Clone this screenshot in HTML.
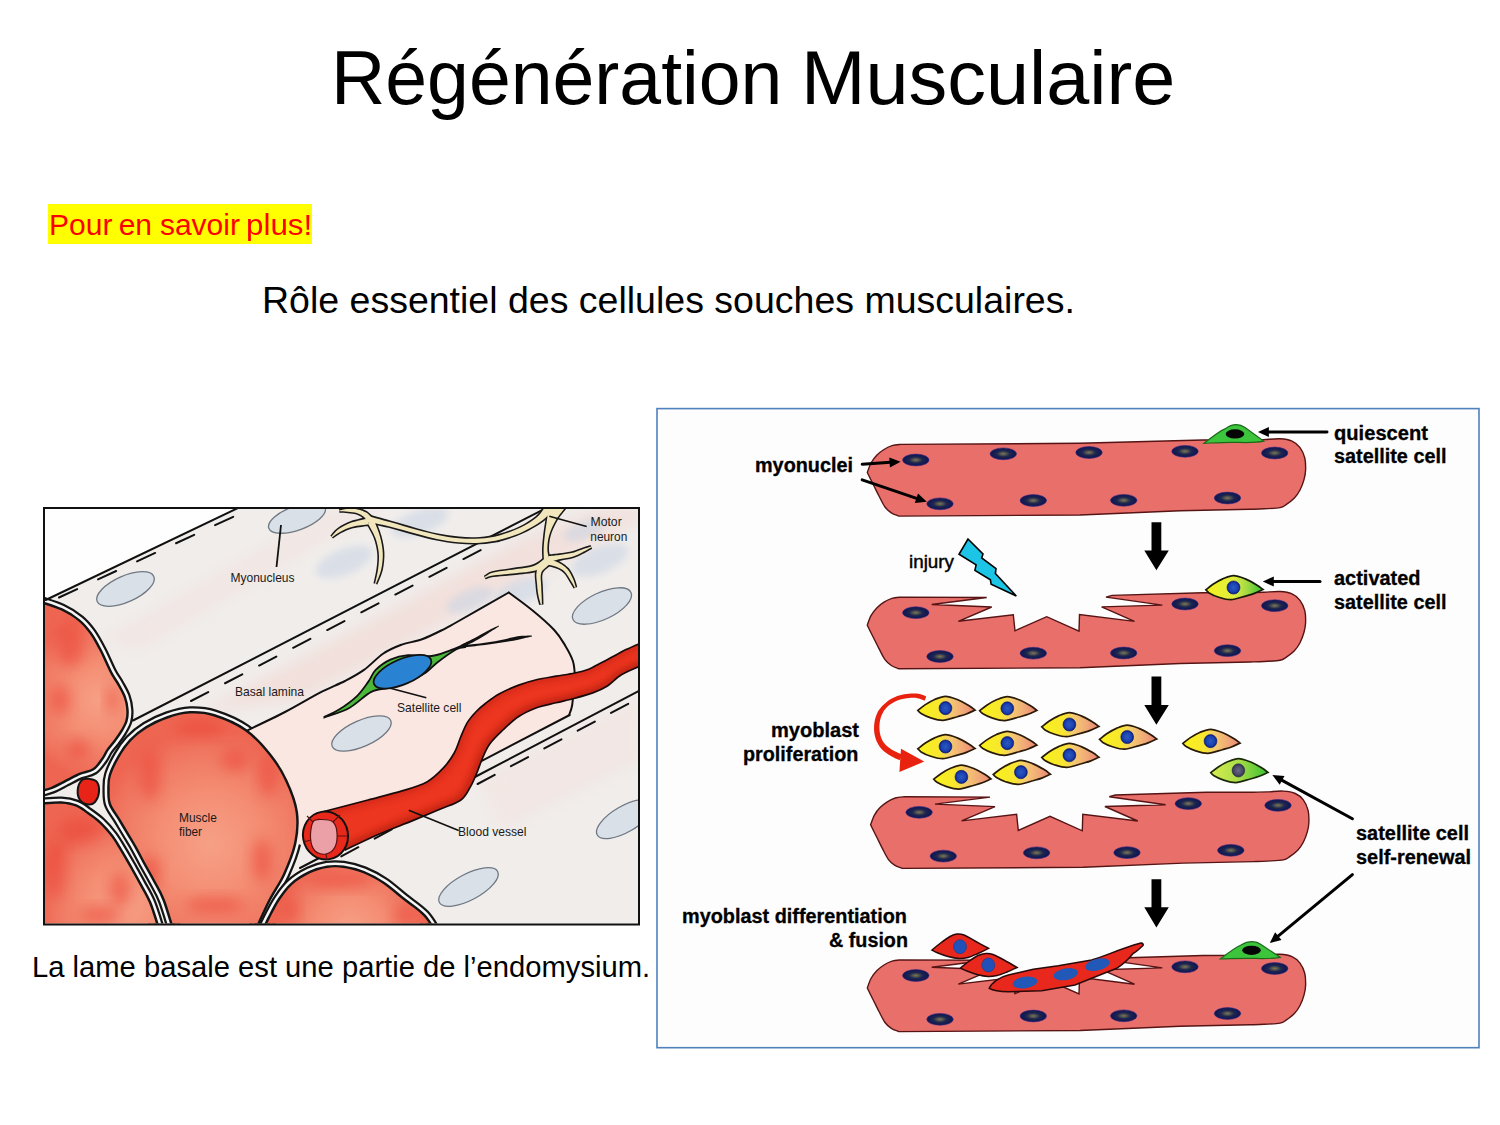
<!DOCTYPE html>
<html><head><meta charset="utf-8">
<style>
html,body{margin:0;padding:0;background:#fff;}
body{width:1500px;height:1125px;position:relative;overflow:hidden;font-family:"Liberation Sans",sans-serif;}
.t{position:absolute;white-space:nowrap;line-height:1;}
.tw{top:40px;font-size:76px;color:#000;transform-origin:0 0;}
#hl{position:absolute;left:48px;top:204px;width:264px;height:40px;background:#ffff00;}
.pw{top:209.5px;font-size:30px;color:#ff0000;}
#sub{left:262px;top:282px;font-size:37.5px;color:#000;}
#cap{left:32px;top:953px;font-size:29.2px;color:#000;}
svg{position:absolute;left:0;top:0;}
</style></head><body>
<div class="t tw" style="left:330.8px;transform:scaleX(0.989)">Régénération</div><div class="t tw" style="left:800.6px;transform:scaleX(1.0185)">Musculaire</div>
<div id="hl"></div>
<div class="t pw" style="left:49.1px">Pour</div><div class="t pw" style="left:118.7px">en</div><div class="t pw" style="left:159.9px">savoir</div><div class="t pw" style="left:246.3px;transform:scaleX(1.045);transform-origin:0 0">plus!</div>
<div class="t" id="sub">Rôle essentiel des cellules souches musculaires.</div>
<div class="t" id="cap">La lame basale est une partie de l’endomysium.</div>
<svg width="1500" height="1125" viewBox="0 0 1500 1125">
<g id="left">
<defs>
<clipPath id="lc"><rect x="45" y="509" width="593.5" height="414.5"/></clipPath>
<filter id="bl4" x="-50%" y="-50%" width="200%" height="200%"><feGaussianBlur stdDeviation="7"/></filter>
<filter id="bl2" x="-50%" y="-50%" width="200%" height="200%"><feGaussianBlur stdDeviation="3"/></filter>
<linearGradient id="vg" x1="0" y1="0" x2="0" y2="1"><stop offset="0" stop-color="#d82814"/><stop offset="0.35" stop-color="#ee3a22"/><stop offset="0.7" stop-color="#e8301c"/><stop offset="1" stop-color="#c41e10"/></linearGradient>
<radialGradient id="rg" cx="45%" cy="45%" r="65%"><stop offset="0" stop-color="#f58a70"/><stop offset="0.6" stop-color="#f27a62"/><stop offset="1" stop-color="#ee6a58"/></radialGradient>
<radialGradient id="gA" gradientUnits="userSpaceOnUse" cx="100" cy="700" r="80"><stop offset="0" stop-color="#f6a086"/><stop offset="0.45" stop-color="#f48e74"/><stop offset="0.8" stop-color="#f07862"/><stop offset="1" stop-color="#ee6652"/></radialGradient>
<radialGradient id="gB" gradientUnits="userSpaceOnUse" cx="210" cy="845" r="115"><stop offset="0" stop-color="#f6a086"/><stop offset="0.45" stop-color="#f48e74"/><stop offset="0.8" stop-color="#f07862"/><stop offset="1" stop-color="#ee6652"/></radialGradient>
<radialGradient id="gC" gradientUnits="userSpaceOnUse" cx="350" cy="930" r="75"><stop offset="0" stop-color="#f6a086"/><stop offset="0.45" stop-color="#f48e74"/><stop offset="0.8" stop-color="#f07862"/><stop offset="1" stop-color="#ee6652"/></radialGradient>
<radialGradient id="gD" gradientUnits="userSpaceOnUse" cx="125" cy="905" r="85"><stop offset="0" stop-color="#f6a086"/><stop offset="0.45" stop-color="#f48e74"/><stop offset="0.8" stop-color="#f07862"/><stop offset="1" stop-color="#ee6652"/></radialGradient>
</defs>
<g clip-path="url(#lc)">
<rect x="44" y="508" width="596" height="417" fill="#f0edeb"/>
<path d="M44,508 L238,508 L45.7,600 L44,600 Z" fill="#fefefe"/>
<path d="M246.5,730.7 L285.0,712.0 L320.0,692.6 L345.0,681.0 L364.0,669.9 L383.0,653.7 L400.7,645.0 L422.7,639.0 L444.7,628.8 L457.9,621.5 L508.8,592.5 L532.0,610.0 L554.2,630.0 L565.4,645.9 L572.8,660.8 L574.7,675.0 L573.5,692.0 L572.0,706.0 L569.1,715.0 L481.3,761.2 L420.0,792.0 L350.0,828.0 L300.0,845.0 L296.0,840.0 L295.6,812.5 L285.4,781.8 L269.0,755.2 L246.5,730.7 Z" fill="#fbe7e2"/>
<path d="M200,712 L520,540 L600,509 L640,509 L640,520 L300,700 Z" fill="#f3d8d2" opacity="0.6" filter="url(#bl4)"/>
<path d="M480,780 L640,700 L640,760 L500,830 Z" fill="#f6dcd6" opacity="0.35" filter="url(#bl4)"/>
<path d="M100,640 L330,509 L380,509 L140,650 Z" fill="#f4dcd6" opacity="0.35" filter="url(#bl4)"/>
<ellipse cx="344" cy="562" rx="30" ry="13" transform="rotate(-22 344 562)" fill="#c9d4e4" opacity="0.55" filter="url(#bl2)"/>
<ellipse cx="420" cy="522" rx="30" ry="12" transform="rotate(-20 420 522)" fill="#c9d4e4" opacity="0.55" filter="url(#bl2)"/>
<ellipse cx="520" cy="592" rx="28" ry="12" transform="rotate(-20 520 592)" fill="#c9d4e4" opacity="0.55" filter="url(#bl2)"/>
<ellipse cx="600" cy="560" rx="30" ry="13" transform="rotate(-22 600 560)" fill="#c9d4e4" opacity="0.55" filter="url(#bl2)"/>
<ellipse cx="470" cy="600" rx="25" ry="10" transform="rotate(-22 470 600)" fill="#c9d4e4" opacity="0.55" filter="url(#bl2)"/>
<ellipse cx="585" cy="530" rx="22" ry="9" transform="rotate(-20 585 530)" fill="#c9d4e4" opacity="0.55" filter="url(#bl2)"/>
<path d="M40.0,603.0 C43.5,604.3 54.9,607.6 61.3,610.6 C67.7,613.6 73.7,617.4 78.4,621.3 C83.2,625.2 86.2,629.0 89.8,634.0 C93.3,639.0 96.3,644.6 99.7,651.1 C103.1,657.6 107.3,667.7 110.2,673.3 C113.1,678.9 115.1,680.9 117.3,684.9 C119.5,688.9 122.1,693.1 123.6,697.3 C125.1,701.4 125.9,705.9 126.2,709.8 C126.5,713.6 126.3,716.8 125.3,720.4 C124.3,724.0 121.9,727.8 120.0,731.1 C118.1,734.4 116.0,737.0 113.8,740.0 C111.6,743.0 108.8,745.9 106.7,748.9 C104.6,751.9 103.6,755.1 101.2,758.3 C98.8,761.5 96.2,765.8 92.6,768.2 C89.0,770.6 84.3,770.6 79.8,772.5 C75.3,774.4 70.3,777.2 65.6,779.6 C60.9,782.0 55.7,785.0 51.4,786.7 C47.1,788.4 41.9,789.5 40.0,790.0 L20.0,790.0 L20.0,603.0 Z" fill="none" stroke="#151515" stroke-width="14.5" stroke-linejoin="round"/>
<path d="M40.0,603.0 C43.5,604.3 54.9,607.6 61.3,610.6 C67.7,613.6 73.7,617.4 78.4,621.3 C83.2,625.2 86.2,629.0 89.8,634.0 C93.3,639.0 96.3,644.6 99.7,651.1 C103.1,657.6 107.3,667.7 110.2,673.3 C113.1,678.9 115.1,680.9 117.3,684.9 C119.5,688.9 122.1,693.1 123.6,697.3 C125.1,701.4 125.9,705.9 126.2,709.8 C126.5,713.6 126.3,716.8 125.3,720.4 C124.3,724.0 121.9,727.8 120.0,731.1 C118.1,734.4 116.0,737.0 113.8,740.0 C111.6,743.0 108.8,745.9 106.7,748.9 C104.6,751.9 103.6,755.1 101.2,758.3 C98.8,761.5 96.2,765.8 92.6,768.2 C89.0,770.6 84.3,770.6 79.8,772.5 C75.3,774.4 70.3,777.2 65.6,779.6 C60.9,782.0 55.7,785.0 51.4,786.7 C47.1,788.4 41.9,789.5 40.0,790.0 L20.0,790.0 L20.0,603.0 Z" fill="none" stroke="#f6f6f6" stroke-width="10" stroke-linejoin="round"/>
<path d="M40.0,805.0 C43.5,804.8 55.4,803.5 61.3,803.8 C67.2,804.1 71.3,804.9 75.6,806.6 C79.9,808.3 82.9,810.9 86.9,813.8 C90.9,816.6 95.7,819.9 99.7,823.7 C103.7,827.5 107.8,832.1 111.1,836.5 C114.4,840.9 116.7,845.1 119.7,850.0 C122.7,854.9 125.8,860.3 129.0,866.0 C132.2,871.7 135.7,877.8 139.0,884.0 C142.3,890.2 145.8,895.3 149.0,903.0 C152.2,910.7 156.5,925.5 158.0,930.0 L158.0,960.0 L20.0,960.0 L20.0,805.0 Z" fill="none" stroke="#151515" stroke-width="14.5" stroke-linejoin="round"/>
<path d="M40.0,805.0 C43.5,804.8 55.4,803.5 61.3,803.8 C67.2,804.1 71.3,804.9 75.6,806.6 C79.9,808.3 82.9,810.9 86.9,813.8 C90.9,816.6 95.7,819.9 99.7,823.7 C103.7,827.5 107.8,832.1 111.1,836.5 C114.4,840.9 116.7,845.1 119.7,850.0 C122.7,854.9 125.8,860.3 129.0,866.0 C132.2,871.7 135.7,877.8 139.0,884.0 C142.3,890.2 145.8,895.3 149.0,903.0 C152.2,910.7 156.5,925.5 158.0,930.0 L158.0,960.0 L20.0,960.0 L20.0,805.0 Z" fill="none" stroke="#f6f6f6" stroke-width="10" stroke-linejoin="round"/>
<path d="M176.0,935.0 C174.2,929.2 168.5,909.2 165.0,900.0 C161.5,890.8 158.3,886.3 155.0,880.0 C151.7,873.7 148.1,867.6 145.0,862.0 C141.9,856.4 139.5,851.5 136.7,846.5 C133.9,841.5 131.0,837.0 128.2,832.2 C125.4,827.5 122.5,822.7 119.7,818.0 C116.9,813.3 112.8,808.5 111.1,803.8 C109.4,799.1 109.7,794.4 109.7,789.6 C109.7,784.9 109.4,780.8 111.1,775.3 C112.8,769.8 116.4,762.6 119.7,756.9 C123.0,751.2 126.5,746.0 131.0,741.2 C135.5,736.5 140.5,732.2 146.7,728.4 C152.9,724.6 160.8,720.9 168.0,718.4 C175.2,715.9 182.4,713.8 190.0,713.5 C197.6,713.2 204.7,713.5 213.8,716.4 C222.9,719.3 235.3,724.2 244.5,730.7 C253.7,737.2 262.2,746.7 269.0,755.2 C275.8,763.7 281.0,772.2 285.4,781.8 C289.8,791.3 294.2,802.3 295.6,812.5 C297.0,822.7 296.1,832.9 294.0,843.1 C291.9,853.3 287.3,864.2 283.0,873.8 C278.7,883.3 273.2,890.2 268.0,900.4 C262.8,910.6 254.7,929.2 252.0,935.0  Z" fill="none" stroke="#151515" stroke-width="14.5" stroke-linejoin="round"/>
<path d="M176.0,935.0 C174.2,929.2 168.5,909.2 165.0,900.0 C161.5,890.8 158.3,886.3 155.0,880.0 C151.7,873.7 148.1,867.6 145.0,862.0 C141.9,856.4 139.5,851.5 136.7,846.5 C133.9,841.5 131.0,837.0 128.2,832.2 C125.4,827.5 122.5,822.7 119.7,818.0 C116.9,813.3 112.8,808.5 111.1,803.8 C109.4,799.1 109.7,794.4 109.7,789.6 C109.7,784.9 109.4,780.8 111.1,775.3 C112.8,769.8 116.4,762.6 119.7,756.9 C123.0,751.2 126.5,746.0 131.0,741.2 C135.5,736.5 140.5,732.2 146.7,728.4 C152.9,724.6 160.8,720.9 168.0,718.4 C175.2,715.9 182.4,713.8 190.0,713.5 C197.6,713.2 204.7,713.5 213.8,716.4 C222.9,719.3 235.3,724.2 244.5,730.7 C253.7,737.2 262.2,746.7 269.0,755.2 C275.8,763.7 281.0,772.2 285.4,781.8 C289.8,791.3 294.2,802.3 295.6,812.5 C297.0,822.7 296.1,832.9 294.0,843.1 C291.9,853.3 287.3,864.2 283.0,873.8 C278.7,883.3 273.2,890.2 268.0,900.4 C262.8,910.6 254.7,929.2 252.0,935.0  Z" fill="none" stroke="#f6f6f6" stroke-width="10" stroke-linejoin="round"/>
<path d="M262.0,935.0 C263.3,932.2 267.0,923.8 270.0,918.0 C273.0,912.2 276.3,905.5 280.0,900.0 C283.7,894.5 287.0,889.5 292.0,885.0 C297.0,880.5 304.1,876.1 310.0,873.3 C315.9,870.5 321.8,868.9 327.3,868.0 C332.9,867.1 337.3,867.1 343.3,868.0 C349.3,868.9 356.6,870.6 363.3,873.3 C370.0,876.0 376.6,879.5 383.3,884.0 C390.0,888.5 396.6,894.7 403.3,900.0 C410.0,905.3 417.9,910.2 423.3,916.0 C428.8,921.8 433.9,931.8 436.0,935.0  Z" fill="none" stroke="#151515" stroke-width="14.5" stroke-linejoin="round"/>
<path d="M262.0,935.0 C263.3,932.2 267.0,923.8 270.0,918.0 C273.0,912.2 276.3,905.5 280.0,900.0 C283.7,894.5 287.0,889.5 292.0,885.0 C297.0,880.5 304.1,876.1 310.0,873.3 C315.9,870.5 321.8,868.9 327.3,868.0 C332.9,867.1 337.3,867.1 343.3,868.0 C349.3,868.9 356.6,870.6 363.3,873.3 C370.0,876.0 376.6,879.5 383.3,884.0 C390.0,888.5 396.6,894.7 403.3,900.0 C410.0,905.3 417.9,910.2 423.3,916.0 C428.8,921.8 433.9,931.8 436.0,935.0  Z" fill="none" stroke="#f6f6f6" stroke-width="10" stroke-linejoin="round"/>
<path d="M246.5,730.7 L285.0,712.0 L320.0,692.6 L345.0,681.0 L364.0,669.9 L383.0,653.7 L400.7,645.0 L422.7,639.0 L444.7,628.8 L457.9,621.5 L508.8,592.5 L532.0,610.0 L554.2,630.0 L565.4,645.9 L572.8,660.8 L574.7,675.0 L573.5,692.0 L572.0,706.0 L569.1,715.0 L481.3,761.2 L420.0,792.0 L350.0,828.0 L300.0,845.0 L296.0,840.0 L295.6,812.5 L285.4,781.8 L269.0,755.2 L246.5,730.7 Z" fill="#fbe7e2"/>
<path d="M45.7,600 L238,508" stroke="#111" fill="none" stroke-linecap="round" stroke-width="2"/>
<path d="M59,597.5 L236,515.5" stroke="#111" fill="none" stroke-linecap="round" stroke-width="2" stroke-dasharray="20,23"/>
<path d="M133,720.5 L545,508.7" stroke="#111" fill="none" stroke-linecap="round" stroke-width="2"/>
<path d="M191,701 L500,540" stroke="#111" fill="none" stroke-linecap="round" stroke-width="2" stroke-dasharray="19.4,19"/>
<path d="M246.5,730.7 C252.9,727.6 272.8,718.4 285.0,712.0 C297.2,705.6 310.0,697.8 320.0,692.6 C330.0,687.4 337.7,684.8 345.0,681.0 C352.3,677.2 357.7,674.4 364.0,669.9 C370.3,665.4 376.9,657.9 383.0,653.7 C389.1,649.6 394.1,647.5 400.7,645.0 C407.3,642.5 415.4,641.7 422.7,639.0 C430.0,636.3 438.8,631.7 444.7,628.8 C450.6,625.9 447.2,627.5 457.9,621.5 C468.6,615.5 500.3,597.3 508.8,592.5" stroke="#111" fill="none" stroke-linecap="round" stroke-width="2"/>
<path d="M508.8,592.5 C512.7,595.4 524.4,603.8 532.0,610.0 C539.6,616.2 548.6,624.0 554.2,630.0 C559.8,636.0 562.3,640.8 565.4,645.9 C568.5,651.0 571.2,655.9 572.8,660.8 C574.3,665.6 574.6,669.8 574.7,675.0 C574.8,680.2 574.0,686.8 573.5,692.0 C573.0,697.2 572.7,702.2 572.0,706.0 C571.3,709.8 569.6,713.5 569.1,715.0" stroke="#111" fill="none" stroke-linecap="round" stroke-width="2"/>
<path d="M569.7,715 L481.3,761.2 L440,783" stroke="#111" fill="none" stroke-linecap="round" stroke-width="2"/>
<path d="M640,690.4 L476.8,776 L300,868" stroke="#111" fill="none" stroke-linecap="round" stroke-width="2"/>
<path d="M477.6,784 L641,697" stroke="#111" fill="none" stroke-linecap="round" stroke-width="2" stroke-dasharray="19.4,18.4"/>
<path d="M458.5,794 L340,857" stroke="#111" fill="none" stroke-linecap="round" stroke-width="2" stroke-dasharray="19.4,18.4"/>
<path d="M40.0,603.0 C43.5,604.3 54.9,607.6 61.3,610.6 C67.7,613.6 73.7,617.4 78.4,621.3 C83.2,625.2 86.2,629.0 89.8,634.0 C93.3,639.0 96.3,644.6 99.7,651.1 C103.1,657.6 107.3,667.7 110.2,673.3 C113.1,678.9 115.1,680.9 117.3,684.9 C119.5,688.9 122.1,693.1 123.6,697.3 C125.1,701.4 125.9,705.9 126.2,709.8 C126.5,713.6 126.3,716.8 125.3,720.4 C124.3,724.0 121.9,727.8 120.0,731.1 C118.1,734.4 116.0,737.0 113.8,740.0 C111.6,743.0 108.8,745.9 106.7,748.9 C104.6,751.9 103.6,755.1 101.2,758.3 C98.8,761.5 96.2,765.8 92.6,768.2 C89.0,770.6 84.3,770.6 79.8,772.5 C75.3,774.4 70.3,777.2 65.6,779.6 C60.9,782.0 55.7,785.0 51.4,786.7 C47.1,788.4 41.9,789.5 40.0,790.0 L20.0,790.0 L20.0,603.0 Z" fill="url(#gA)" stroke="#151515" stroke-width="5" stroke-linejoin="round" paint-order="stroke"/>
<path d="M40.0,805.0 C43.5,804.8 55.4,803.5 61.3,803.8 C67.2,804.1 71.3,804.9 75.6,806.6 C79.9,808.3 82.9,810.9 86.9,813.8 C90.9,816.6 95.7,819.9 99.7,823.7 C103.7,827.5 107.8,832.1 111.1,836.5 C114.4,840.9 116.7,845.1 119.7,850.0 C122.7,854.9 125.8,860.3 129.0,866.0 C132.2,871.7 135.7,877.8 139.0,884.0 C142.3,890.2 145.8,895.3 149.0,903.0 C152.2,910.7 156.5,925.5 158.0,930.0 L158.0,960.0 L20.0,960.0 L20.0,805.0 Z" fill="url(#gD)" stroke="#151515" stroke-width="5" stroke-linejoin="round" paint-order="stroke"/>
<path d="M176.0,935.0 C174.2,929.2 168.5,909.2 165.0,900.0 C161.5,890.8 158.3,886.3 155.0,880.0 C151.7,873.7 148.1,867.6 145.0,862.0 C141.9,856.4 139.5,851.5 136.7,846.5 C133.9,841.5 131.0,837.0 128.2,832.2 C125.4,827.5 122.5,822.7 119.7,818.0 C116.9,813.3 112.8,808.5 111.1,803.8 C109.4,799.1 109.7,794.4 109.7,789.6 C109.7,784.9 109.4,780.8 111.1,775.3 C112.8,769.8 116.4,762.6 119.7,756.9 C123.0,751.2 126.5,746.0 131.0,741.2 C135.5,736.5 140.5,732.2 146.7,728.4 C152.9,724.6 160.8,720.9 168.0,718.4 C175.2,715.9 182.4,713.8 190.0,713.5 C197.6,713.2 204.7,713.5 213.8,716.4 C222.9,719.3 235.3,724.2 244.5,730.7 C253.7,737.2 262.2,746.7 269.0,755.2 C275.8,763.7 281.0,772.2 285.4,781.8 C289.8,791.3 294.2,802.3 295.6,812.5 C297.0,822.7 296.1,832.9 294.0,843.1 C291.9,853.3 287.3,864.2 283.0,873.8 C278.7,883.3 273.2,890.2 268.0,900.4 C262.8,910.6 254.7,929.2 252.0,935.0  Z" fill="url(#gB)" stroke="#151515" stroke-width="5" stroke-linejoin="round" paint-order="stroke"/>
<path d="M262.0,935.0 C263.3,932.2 267.0,923.8 270.0,918.0 C273.0,912.2 276.3,905.5 280.0,900.0 C283.7,894.5 287.0,889.5 292.0,885.0 C297.0,880.5 304.1,876.1 310.0,873.3 C315.9,870.5 321.8,868.9 327.3,868.0 C332.9,867.1 337.3,867.1 343.3,868.0 C349.3,868.9 356.6,870.6 363.3,873.3 C370.0,876.0 376.6,879.5 383.3,884.0 C390.0,888.5 396.6,894.7 403.3,900.0 C410.0,905.3 417.9,910.2 423.3,916.0 C428.8,921.8 433.9,931.8 436.0,935.0  Z" fill="url(#gC)" stroke="#151515" stroke-width="5" stroke-linejoin="round" paint-order="stroke"/>
<ellipse cx="125.5" cy="589" rx="31" ry="13" transform="rotate(-24 125.5 589)" fill="#d9e0e8" stroke="#6f7882" stroke-width="1.3"/>
<ellipse cx="297" cy="518" rx="30" ry="12" transform="rotate(-20 297 518)" fill="#d9e0e8" stroke="#6f7882" stroke-width="1.3"/>
<ellipse cx="361.5" cy="733.5" rx="32" ry="13" transform="rotate(-24 361.5 733.5)" fill="#d9e0e8" stroke="#6f7882" stroke-width="1.3"/>
<ellipse cx="468.5" cy="887" rx="33" ry="13" transform="rotate(-28 468.5 887)" fill="#d9e0e8" stroke="#6f7882" stroke-width="1.3"/>
<ellipse cx="602" cy="606" rx="32" ry="13.5" transform="rotate(-25 602 606)" fill="#d9e0e8" stroke="#6f7882" stroke-width="1.3"/>
<ellipse cx="625" cy="819" rx="32" ry="13" transform="rotate(-30 625 819)" fill="#d9e0e8" stroke="#6f7882" stroke-width="1.3"/>
<clipPath id="cA"><path d="M40.0,603.0 C43.5,604.3 54.9,607.6 61.3,610.6 C67.7,613.6 73.7,617.4 78.4,621.3 C83.2,625.2 86.2,629.0 89.8,634.0 C93.3,639.0 96.3,644.6 99.7,651.1 C103.1,657.6 107.3,667.7 110.2,673.3 C113.1,678.9 115.1,680.9 117.3,684.9 C119.5,688.9 122.1,693.1 123.6,697.3 C125.1,701.4 125.9,705.9 126.2,709.8 C126.5,713.6 126.3,716.8 125.3,720.4 C124.3,724.0 121.9,727.8 120.0,731.1 C118.1,734.4 116.0,737.0 113.8,740.0 C111.6,743.0 108.8,745.9 106.7,748.9 C104.6,751.9 103.6,755.1 101.2,758.3 C98.8,761.5 96.2,765.8 92.6,768.2 C89.0,770.6 84.3,770.6 79.8,772.5 C75.3,774.4 70.3,777.2 65.6,779.6 C60.9,782.0 55.7,785.0 51.4,786.7 C47.1,788.4 41.9,789.5 40.0,790.0 L20,790 L20,603 Z"/></clipPath>
<clipPath id="cB"><path d="M176.0,935.0 C174.2,929.2 168.5,909.2 165.0,900.0 C161.5,890.8 158.3,886.3 155.0,880.0 C151.7,873.7 148.1,867.6 145.0,862.0 C141.9,856.4 139.5,851.5 136.7,846.5 C133.9,841.5 131.0,837.0 128.2,832.2 C125.4,827.5 122.5,822.7 119.7,818.0 C116.9,813.3 112.8,808.5 111.1,803.8 C109.4,799.1 109.7,794.4 109.7,789.6 C109.7,784.9 109.4,780.8 111.1,775.3 C112.8,769.8 116.4,762.6 119.7,756.9 C123.0,751.2 126.5,746.0 131.0,741.2 C135.5,736.5 140.5,732.2 146.7,728.4 C152.9,724.6 160.8,720.9 168.0,718.4 C175.2,715.9 182.4,713.8 190.0,713.5 C197.6,713.2 204.7,713.5 213.8,716.4 C222.9,719.3 235.3,724.2 244.5,730.7 C253.7,737.2 262.2,746.7 269.0,755.2 C275.8,763.7 281.0,772.2 285.4,781.8 C289.8,791.3 294.2,802.3 295.6,812.5 C297.0,822.7 296.1,832.9 294.0,843.1 C291.9,853.3 287.3,864.2 283.0,873.8 C278.7,883.3 273.2,890.2 268.0,900.4 C262.8,910.6 254.7,929.2 252.0,935.0 Z"/></clipPath>
<clipPath id="cC"><path d="M262.0,935.0 C263.3,932.2 267.0,923.8 270.0,918.0 C273.0,912.2 276.3,905.5 280.0,900.0 C283.7,894.5 287.0,889.5 292.0,885.0 C297.0,880.5 304.1,876.1 310.0,873.3 C315.9,870.5 321.8,868.9 327.3,868.0 C332.9,867.1 337.3,867.1 343.3,868.0 C349.3,868.9 356.6,870.6 363.3,873.3 C370.0,876.0 376.6,879.5 383.3,884.0 C390.0,888.5 396.6,894.7 403.3,900.0 C410.0,905.3 417.9,910.2 423.3,916.0 C428.8,921.8 433.9,931.8 436.0,935.0 Z"/></clipPath>
<clipPath id="cD"><path d="M40.0,805.0 C43.5,804.8 55.4,803.5 61.3,803.8 C67.2,804.1 71.3,804.9 75.6,806.6 C79.9,808.3 82.9,810.9 86.9,813.8 C90.9,816.6 95.7,819.9 99.7,823.7 C103.7,827.5 107.8,832.1 111.1,836.5 C114.4,840.9 116.7,845.1 119.7,850.0 C122.7,854.9 125.8,860.3 129.0,866.0 C132.2,871.7 135.7,877.8 139.0,884.0 C142.3,890.2 145.8,895.3 149.0,903.0 C152.2,910.7 156.5,925.5 158.0,930.0 L158,960 L20,960 L20,805 Z"/></clipPath>
<g clip-path="url(#cA)"><ellipse cx="70" cy="645" rx="14" ry="22" fill="#ec4a3a" opacity="0.6" filter="url(#bl4)"/><ellipse cx="60" cy="700" rx="10" ry="16" fill="#ec4a3a" opacity="0.6" filter="url(#bl4)"/><ellipse cx="78" cy="750" rx="12" ry="10" fill="#ec4a3a" opacity="0.6" filter="url(#bl4)"/><ellipse cx="112" cy="700" rx="6" ry="14" fill="#ec4a3a" opacity="0.6" filter="url(#bl4)"/></g>
<g clip-path="url(#cB)"><ellipse cx="150" cy="775" rx="10" ry="26" fill="#ec4a3a" opacity="0.6" filter="url(#bl4)"/><ellipse cx="200" cy="728" rx="26" ry="9" fill="#ec4a3a" opacity="0.6" filter="url(#bl4)"/><ellipse cx="268" cy="775" rx="9" ry="22" fill="#ec4a3a" opacity="0.6" filter="url(#bl4)"/><ellipse cx="262" cy="860" rx="10" ry="22" fill="#ec4a3a" opacity="0.6" filter="url(#bl4)"/><ellipse cx="150" cy="872" rx="10" ry="18" fill="#ec4a3a" opacity="0.6" filter="url(#bl4)"/><ellipse cx="215" cy="905" rx="30" ry="8" fill="#ec4a3a" opacity="0.6" filter="url(#bl4)"/><ellipse cx="235" cy="760" rx="14" ry="10" fill="#ec4a3a" opacity="0.6" filter="url(#bl4)"/></g>
<g clip-path="url(#cC)"><ellipse cx="340" cy="880" rx="34" ry="8" fill="#ec4a3a" opacity="0.6" filter="url(#bl4)"/><ellipse cx="290" cy="910" rx="8" ry="14" fill="#ec4a3a" opacity="0.6" filter="url(#bl4)"/><ellipse cx="405" cy="915" rx="10" ry="10" fill="#ec4a3a" opacity="0.6" filter="url(#bl4)"/></g>
<g clip-path="url(#cD)"><ellipse cx="80" cy="830" rx="22" ry="12" fill="#ec4a3a" opacity="0.6" filter="url(#bl4)"/><ellipse cx="55" cy="870" rx="10" ry="30" fill="#ec4a3a" opacity="0.6" filter="url(#bl4)"/><ellipse cx="120" cy="890" rx="10" ry="18" fill="#ec4a3a" opacity="0.6" filter="url(#bl4)"/><ellipse cx="100" cy="915" rx="20" ry="8" fill="#ec4a3a" opacity="0.6" filter="url(#bl4)"/></g>
<path d="M77.7,790.0 C78.0,786.7 80.0,781.9 82.0,780.0 C84.0,778.1 87.5,778.6 90.0,778.9 C92.5,779.2 95.5,779.8 97.0,782.0 C98.5,784.2 99.3,788.7 99.0,792.0 C98.7,795.3 96.8,799.9 95.0,802.0 C93.2,804.1 90.5,804.8 88.0,804.5 C85.5,804.2 81.7,802.4 80.0,800.0 C78.3,797.6 77.4,793.3 77.7,790.0 Z" fill="#e82418" stroke="#151515" stroke-width="2"/>
<path d="M373.2,516.9 C372.2,516.0 369.6,512.8 367.1,511.3 C364.6,509.8 361.3,508.5 358.2,507.8 C355.0,507.1 351.2,507.1 348.1,507.3 C344.9,507.5 340.6,508.6 339.1,508.8 L339.3,512.8 C340.8,512.9 345.1,513.0 347.9,513.3 C350.8,513.6 354.0,513.8 356.4,514.6 C358.9,515.4 360.8,516.5 362.5,517.9 C364.2,519.3 366.1,522.2 366.8,523.1 Z" fill="#1a1a1a"/>
<path d="M367.1,517.1 C364.4,517.8 355.8,519.3 350.9,521.1 C345.9,522.9 341.0,525.6 337.6,527.9 C334.2,530.3 331.6,534.2 330.4,535.5 L333.0,538.5 C334.3,537.6 337.5,535.0 340.8,533.3 C344.2,531.5 348.5,529.5 353.1,528.3 C357.8,527.1 366.3,526.3 368.9,525.9 Z" fill="#1a1a1a"/>
<path d="M366.4,524.0 C367.7,526.4 372.0,533.3 373.8,538.2 C375.6,543.1 376.7,548.2 377.2,553.2 C377.7,558.3 377.2,563.4 376.5,568.5 C375.9,573.5 374.0,580.9 373.5,583.3 L377.5,584.5 C378.4,582.0 381.7,574.8 382.9,569.5 C384.0,564.3 384.6,558.4 384.4,552.8 C384.2,547.1 382.9,541.3 381.4,535.8 C379.9,530.3 376.5,522.6 375.6,520.0 Z" fill="#1a1a1a"/>
<path d="M366.9,523.4 C370.5,524.1 380.3,525.9 388.3,527.8 C396.4,529.8 407.0,533.1 415.1,535.2 C423.1,537.3 429.4,539.1 436.6,540.5 C443.8,542.0 451.1,543.2 458.4,543.8 C465.7,544.4 473.1,544.7 480.2,544.3 C487.3,543.9 493.9,543.0 501.0,541.2 C508.0,539.4 516.1,536.6 522.7,533.6 C529.3,530.7 535.9,526.8 540.7,523.6 C545.4,520.5 548.3,517.2 551.1,514.6 C554.0,512.0 556.6,509.2 557.7,508.1 L546.3,499.9 C545.7,501.2 544.7,504.6 542.9,507.4 C541.0,510.1 539.3,513.2 535.3,516.4 C531.4,519.5 525.4,523.5 519.3,526.4 C513.3,529.3 505.6,532.1 499.0,533.8 C492.5,535.6 486.4,536.4 479.8,536.9 C473.1,537.4 466.0,537.2 459.0,536.6 C452.0,536.0 445.0,534.9 438.0,533.5 C431.0,532.1 424.9,530.4 416.9,528.2 C409.0,526.1 398.2,522.8 390.3,520.6 C382.3,518.3 372.6,515.6 369.1,514.6 Z" fill="#1a1a1a"/>
<path d="M547.7,501.3 C547.4,504.0 546.5,511.6 545.8,517.1 C545.1,522.6 544.0,528.8 543.3,534.3 C542.7,539.8 542.1,545.4 542.0,550.0 C541.9,554.6 542.5,559.7 542.5,561.6 L551.5,560.4 C551.0,558.7 549.1,554.1 549.0,550.0 C548.9,545.9 549.3,540.6 550.7,535.7 C552.0,530.9 554.6,525.4 557.2,520.9 C559.8,516.4 564.8,510.7 566.3,508.7 Z" fill="#1a1a1a"/>
<path d="M543.7,557.6 C541.8,558.7 538.2,562.8 532.4,564.6 C526.7,566.5 516.0,567.3 509.2,568.4 C502.5,569.5 496.3,570.0 492.0,571.2 C487.8,572.4 485.3,574.9 483.9,575.7 L485.5,579.3 C486.8,579.0 489.2,577.7 493.4,577.0 C497.5,576.4 503.3,576.1 510.2,575.4 C517.0,574.6 528.2,573.8 534.6,572.4 C540.9,570.9 546.0,567.4 548.3,566.4 Z" fill="#1a1a1a"/>
<path d="M542.1,559.9 C540.9,561.7 536.3,566.7 535.2,570.8 C534.1,574.9 535.2,580.4 535.5,584.5 C535.8,588.6 536.1,591.9 536.8,595.4 C537.4,598.8 538.9,603.4 539.3,605.0 L543.5,604.4 C543.4,602.8 543.4,598.0 543.2,594.6 C543.1,591.3 542.8,587.7 542.7,584.1 C542.6,580.6 541.6,576.2 542.8,573.2 C544.0,570.2 548.8,567.3 549.9,566.1 Z" fill="#1a1a1a"/>
<path d="M547.6,566.3 C549.0,566.7 553.5,567.4 556.2,568.6 C558.9,569.7 561.5,570.9 563.7,573.1 C565.9,575.2 567.7,578.8 569.4,581.4 C571.0,584.0 572.9,587.3 573.6,588.5 L577.2,586.9 C576.8,585.5 576.0,581.7 574.6,578.6 C573.2,575.5 571.3,571.2 568.9,568.3 C566.4,565.5 562.9,563.2 559.8,561.4 C556.7,559.7 552.0,558.3 550.4,557.7 Z" fill="#1a1a1a"/>
<path d="M549.8,563.4 C551.6,563.0 556.8,561.6 560.7,560.7 C564.5,559.8 569.2,559.4 572.9,558.3 C576.7,557.1 580.0,555.4 583.1,553.8 C586.3,552.2 590.6,549.6 592.1,548.7 L590.5,545.1 C588.9,545.6 584.1,547.2 580.9,548.2 C577.6,549.3 574.7,550.7 571.1,551.5 C567.5,552.4 563.2,552.8 559.3,553.3 C555.5,553.8 550.1,554.4 548.2,554.6 Z" fill="#1a1a1a"/>
<path d="M372.1,518.0 C371.1,517.1 368.6,514.1 366.2,512.6 C363.8,511.2 360.8,510.0 357.8,509.4 C354.7,508.7 351.1,508.7 348.0,508.9 C344.9,509.1 340.7,510.2 339.2,510.4 L339.2,511.2 C340.7,511.3 345.0,511.4 348.0,511.7 C350.9,512.0 354.3,512.2 356.8,513.0 C359.4,513.9 361.6,515.1 363.4,516.6 C365.3,518.1 367.2,521.1 367.9,522.0 Z" fill="#f2e6bd"/>
<path d="M367.4,518.7 C364.8,519.3 356.2,520.9 351.4,522.6 C346.5,524.4 341.7,527.0 338.4,529.3 C335.1,531.7 332.6,535.5 331.4,536.7 L332.0,537.3 C333.3,536.4 336.5,533.6 340.0,531.9 C343.4,530.1 347.9,528.0 352.6,526.8 C357.4,525.5 365.9,524.7 368.6,524.3 Z" fill="#f2e6bd"/>
<path d="M367.9,523.4 C369.1,525.8 373.5,532.8 375.3,537.7 C377.1,542.7 378.3,548.0 378.8,553.1 C379.3,558.3 378.8,563.6 378.1,568.7 C377.5,573.8 375.5,581.3 375.0,583.8 L376.0,584.0 C376.9,581.6 380.1,574.5 381.3,569.3 C382.4,564.1 383.0,558.4 382.8,552.9 C382.6,547.4 381.3,541.6 379.9,536.3 C378.4,530.9 375.1,523.2 374.1,520.6 Z" fill="#f2e6bd"/>
<path d="M367.3,521.8 C370.9,522.6 380.7,524.3 388.8,526.3 C396.8,528.2 407.5,531.5 415.5,533.6 C423.5,535.7 429.7,537.5 436.9,539.0 C444.1,540.4 451.3,541.6 458.5,542.2 C465.7,542.8 473.1,543.1 480.1,542.7 C487.1,542.3 493.6,541.4 500.6,539.6 C507.5,537.9 515.5,535.1 522.0,532.2 C528.5,529.3 535.1,525.4 539.7,522.3 C544.4,519.2 547.2,516.1 549.9,513.6 C552.7,511.0 555.3,508.2 556.4,507.1 L547.6,500.9 C547.0,502.1 546.0,505.6 544.1,508.4 C542.2,511.2 540.3,514.4 536.3,517.7 C532.3,520.9 526.1,524.9 520.0,527.8 C513.9,530.8 506.1,533.6 499.4,535.4 C492.8,537.2 486.6,538.0 479.9,538.5 C473.1,539.0 465.9,538.8 458.9,538.2 C451.8,537.6 444.7,536.4 437.7,535.0 C430.6,533.6 424.5,531.9 416.5,529.8 C408.5,527.6 397.8,524.4 389.8,522.1 C381.9,519.9 372.2,517.2 368.7,516.2 Z" fill="#f2e6bd"/>
<path d="M549.2,501.9 C548.9,504.5 548.0,512.2 547.3,517.6 C546.6,523.1 545.5,529.2 544.9,534.6 C544.3,540.0 543.7,545.5 543.6,550.0 C543.5,554.5 544.0,559.5 544.1,561.4 L549.9,560.6 C549.5,558.8 547.5,554.2 547.4,550.0 C547.3,545.8 547.7,540.3 549.1,535.4 C550.5,530.5 553.1,524.9 555.7,520.4 C558.3,515.8 563.3,510.1 564.8,508.1 Z" fill="#f2e6bd"/>
<path d="M544.4,559.0 C542.5,560.2 538.7,564.3 532.9,566.2 C527.0,568.0 516.2,568.9 509.4,570.0 C502.7,571.1 496.5,571.5 492.4,572.7 C488.2,573.9 485.9,576.4 484.5,577.1 L484.9,577.9 C486.2,577.5 488.8,576.1 493.0,575.5 C497.2,574.8 503.1,574.6 510.0,573.8 C516.8,573.0 527.9,572.3 534.1,570.8 C540.4,569.4 545.3,566.0 547.6,565.0 Z" fill="#f2e6bd"/>
<path d="M543.3,560.9 C542.2,562.6 537.8,567.3 536.7,571.3 C535.7,575.2 536.8,580.4 537.1,584.4 C537.4,588.4 537.7,591.8 538.4,595.2 C539.0,598.6 540.5,603.2 540.9,604.8 L541.9,604.6 C541.9,603.0 541.8,598.2 541.6,594.8 C541.5,591.4 541.2,587.9 541.1,584.2 C541.0,580.5 540.0,575.9 541.3,572.7 C542.5,569.6 547.5,566.4 548.7,565.1 Z" fill="#f2e6bd"/>
<path d="M548.1,564.8 C549.6,565.2 554.1,565.9 556.9,567.1 C559.7,568.4 562.6,569.7 564.9,572.0 C567.2,574.2 569.1,578.0 570.8,580.7 C572.5,583.3 574.3,586.7 575.0,587.9 L575.8,587.5 C575.3,586.2 574.6,582.4 573.2,579.3 C571.9,576.3 570.0,572.2 567.7,569.4 C565.3,566.7 562.0,564.5 559.1,562.9 C556.1,561.2 551.4,559.8 549.9,559.2 Z" fill="#f2e6bd"/>
<path d="M549.5,561.9 C551.3,561.4 556.5,560.0 560.4,559.1 C564.2,558.3 568.8,557.9 572.5,556.7 C576.2,555.6 579.4,553.9 582.5,552.3 C585.7,550.7 590.0,548.1 591.5,547.3 L591.1,546.5 C589.5,547.1 584.7,548.6 581.5,549.7 C578.2,550.8 575.1,552.2 571.5,553.1 C567.9,553.9 563.5,554.4 559.6,554.9 C555.8,555.4 550.3,555.9 548.5,556.1 Z" fill="#f2e6bd"/>
<circle cx="547" cy="561.5" r="3.5" fill="#f2e6bd"/><circle cx="369.5" cy="520.5" r="2.5" fill="#f2e6bd"/>
<path d="M324.4,717.5 C328.5,715.9 341.5,712.3 349.3,708.0 C357.1,703.7 364.5,695.3 371.3,691.9 C378.1,688.5 384.3,689.2 390.4,687.5 C396.5,685.8 402.1,684.1 408.0,681.6 C413.9,679.1 420.7,676.0 425.6,672.8 C430.5,669.6 432.2,666.4 437.3,662.5 C442.4,658.6 451.8,651.9 456.4,649.3 C461.0,646.7 463.7,647.5 465.2,647.1 L465.2,644.2 C462.5,645.3 454.7,648.8 449.1,650.8 C443.5,652.8 438.4,655.3 431.5,656.0 C424.6,656.7 414.9,654.6 408.0,655.2 C401.1,655.8 395.8,657.2 390.4,659.6 C385.0,662.0 379.4,666.2 375.7,669.9 C372.0,673.6 371.6,677.2 368.4,681.6 C365.2,686.0 361.6,691.6 356.7,696.3 C351.8,700.9 344.5,706.1 339.1,709.5 C333.7,712.9 326.8,715.6 324.4,716.8 Z" fill="#4cb83a" stroke="#111" stroke-width="1.8"/>
<ellipse cx="402.5" cy="671.7" rx="31" ry="12.5" transform="rotate(-23.6 402.5 671.7)" fill="#2a82d2" stroke="#111" stroke-width="1.8"/>
<path d="M462.7,647.4 C464.9,646.3 471.4,643.2 475.7,640.8 C480.0,638.4 484.7,635.5 488.6,633.0 C492.5,630.6 497.4,627.5 499.1,626.3 L498.7,625.5 C496.8,626.4 491.5,628.8 487.4,631.0 C483.3,633.1 478.6,635.9 474.3,638.2 C469.9,640.4 463.5,643.5 461.3,644.6 Z" fill="#111"/>
<path d="M462.1,647.8 C465.1,647.4 473.8,646.4 480.1,645.6 C486.5,644.8 493.9,643.8 500.2,642.8 C506.6,641.8 513.0,640.7 518.3,639.7 C523.6,638.6 529.7,637.1 532.0,636.6 L531.8,635.6 C529.5,635.7 523.1,635.6 517.7,636.3 C512.4,637.1 506.1,639.0 499.8,640.2 C493.5,641.4 486.2,642.6 479.9,643.4 C473.5,644.2 464.9,644.9 461.9,645.2 Z" fill="#111"/>
<clipPath id="vclip"><path d="M324.9,811.3 C332.1,809.4 355.1,803.4 368.0,800.0 C380.9,796.6 392.2,793.9 402.0,790.9 C411.8,787.9 419.9,785.8 426.9,781.9 C433.9,778.0 439.3,772.3 443.9,767.4 C448.5,762.5 451.7,757.6 454.5,752.5 C457.3,747.4 458.8,741.5 460.9,736.5 C463.0,731.5 464.8,726.7 467.3,722.6 C469.8,718.5 472.8,715.2 475.8,712.0 C478.8,708.8 481.5,706.5 485.4,703.5 C489.3,700.5 493.4,697.1 499.0,694.0 C504.6,690.9 512.3,687.5 518.7,685.1 C525.1,682.7 531.1,681.0 537.3,679.5 C543.5,678.0 549.8,677.3 556.0,676.2 C562.2,675.1 569.2,674.2 574.7,673.0 C580.2,671.8 584.8,670.6 588.7,669.2 C592.6,667.8 594.1,666.5 598.0,664.5 C601.9,662.5 607.3,659.6 612.0,657.1 C616.7,654.6 621.0,652.0 626.0,649.6 C631.0,647.2 639.3,643.7 642.0,642.5 L643,665 C639.4,666.6 627.3,671.3 621.4,674.8 C615.5,678.3 612.1,683.0 607.4,686.0 C602.7,689.0 598.8,690.6 593.4,692.6 C588.0,694.6 580.9,696.5 574.7,698.2 C568.5,699.9 562.2,701.2 556.0,702.8 C549.8,704.3 543.5,705.2 537.3,707.5 C531.1,709.8 524.4,712.8 518.7,716.5 C513.0,720.2 507.8,725.4 503.0,730.0 C498.2,734.6 493.2,739.2 489.7,744.0 C486.2,748.8 484.3,754.1 482.2,758.9 C480.1,763.7 478.8,768.1 476.9,772.7 C474.9,777.3 473.2,782.1 470.5,786.6 C467.8,791.1 465.9,796.3 460.9,800.0 C455.9,803.7 448.4,805.6 440.5,809.0 C432.6,812.4 423.5,816.2 413.3,820.4 C403.1,824.6 390.6,829.1 379.3,834.0 C368.0,838.9 351.0,847.2 345.3,849.9 Z"/></clipPath>
<path d="M324.9,811.3 C332.1,809.4 355.1,803.4 368.0,800.0 C380.9,796.6 392.2,793.9 402.0,790.9 C411.8,787.9 419.9,785.8 426.9,781.9 C433.9,778.0 439.3,772.3 443.9,767.4 C448.5,762.5 451.7,757.6 454.5,752.5 C457.3,747.4 458.8,741.5 460.9,736.5 C463.0,731.5 464.8,726.7 467.3,722.6 C469.8,718.5 472.8,715.2 475.8,712.0 C478.8,708.8 481.5,706.5 485.4,703.5 C489.3,700.5 493.4,697.1 499.0,694.0 C504.6,690.9 512.3,687.5 518.7,685.1 C525.1,682.7 531.1,681.0 537.3,679.5 C543.5,678.0 549.8,677.3 556.0,676.2 C562.2,675.1 569.2,674.2 574.7,673.0 C580.2,671.8 584.8,670.6 588.7,669.2 C592.6,667.8 594.1,666.5 598.0,664.5 C601.9,662.5 607.3,659.6 612.0,657.1 C616.7,654.6 621.0,652.0 626.0,649.6 C631.0,647.2 639.3,643.7 642.0,642.5 L643,665 C639.4,666.6 627.3,671.3 621.4,674.8 C615.5,678.3 612.1,683.0 607.4,686.0 C602.7,689.0 598.8,690.6 593.4,692.6 C588.0,694.6 580.9,696.5 574.7,698.2 C568.5,699.9 562.2,701.2 556.0,702.8 C549.8,704.3 543.5,705.2 537.3,707.5 C531.1,709.8 524.4,712.8 518.7,716.5 C513.0,720.2 507.8,725.4 503.0,730.0 C498.2,734.6 493.2,739.2 489.7,744.0 C486.2,748.8 484.3,754.1 482.2,758.9 C480.1,763.7 478.8,768.1 476.9,772.7 C474.9,777.3 473.2,782.1 470.5,786.6 C467.8,791.1 465.9,796.3 460.9,800.0 C455.9,803.7 448.4,805.6 440.5,809.0 C432.6,812.4 423.5,816.2 413.3,820.4 C403.1,824.6 390.6,829.1 379.3,834.0 C368.0,838.9 351.0,847.2 345.3,849.9 Z" fill="#ec3620"/>
<g clip-path="url(#vclip)"><path d="M324.9,811.3 C332.1,809.4 355.1,803.4 368.0,800.0 C380.9,796.6 392.2,793.9 402.0,790.9 C411.8,787.9 419.9,785.8 426.9,781.9 C433.9,778.0 439.3,772.3 443.9,767.4 C448.5,762.5 451.7,757.6 454.5,752.5 C457.3,747.4 458.8,741.5 460.9,736.5 C463.0,731.5 464.8,726.7 467.3,722.6 C469.8,718.5 472.8,715.2 475.8,712.0 C478.8,708.8 481.5,706.5 485.4,703.5 C489.3,700.5 493.4,697.1 499.0,694.0 C504.6,690.9 512.3,687.5 518.7,685.1 C525.1,682.7 531.1,681.0 537.3,679.5 C543.5,678.0 549.8,677.3 556.0,676.2 C562.2,675.1 569.2,674.2 574.7,673.0 C580.2,671.8 584.8,670.6 588.7,669.2 C592.6,667.8 594.1,666.5 598.0,664.5 C601.9,662.5 607.3,659.6 612.0,657.1 C616.7,654.6 621.0,652.0 626.0,649.6 C631.0,647.2 639.3,643.7 642.0,642.5" fill="none" stroke="#c42412" stroke-width="9" opacity="0.6" filter="url(#bl2)"/><path d="M643.0,665.0 C639.4,666.6 627.3,671.3 621.4,674.8 C615.5,678.3 612.1,683.0 607.4,686.0 C602.7,689.0 598.8,690.6 593.4,692.6 C588.0,694.6 580.9,696.5 574.7,698.2 C568.5,699.9 562.2,701.2 556.0,702.8 C549.8,704.3 543.5,705.2 537.3,707.5 C531.1,709.8 524.4,712.8 518.7,716.5 C513.0,720.2 507.8,725.4 503.0,730.0 C498.2,734.6 493.2,739.2 489.7,744.0 C486.2,748.8 484.3,754.1 482.2,758.9 C480.1,763.7 478.8,768.1 476.9,772.7 C474.9,777.3 473.2,782.1 470.5,786.6 C467.8,791.1 465.9,796.3 460.9,800.0 C455.9,803.7 448.4,805.6 440.5,809.0 C432.6,812.4 423.5,816.2 413.3,820.4 C403.1,824.6 390.6,829.1 379.3,834.0 C368.0,838.9 351.0,847.2 345.3,849.9" fill="none" stroke="#b01c0e" stroke-width="10" opacity="0.7" filter="url(#bl2)"/></g>
<path d="M324.9,811.3 C332.1,809.4 355.1,803.4 368.0,800.0 C380.9,796.6 392.2,793.9 402.0,790.9 C411.8,787.9 419.9,785.8 426.9,781.9 C433.9,778.0 439.3,772.3 443.9,767.4 C448.5,762.5 451.7,757.6 454.5,752.5 C457.3,747.4 458.8,741.5 460.9,736.5 C463.0,731.5 464.8,726.7 467.3,722.6 C469.8,718.5 472.8,715.2 475.8,712.0 C478.8,708.8 481.5,706.5 485.4,703.5 C489.3,700.5 493.4,697.1 499.0,694.0 C504.6,690.9 512.3,687.5 518.7,685.1 C525.1,682.7 531.1,681.0 537.3,679.5 C543.5,678.0 549.8,677.3 556.0,676.2 C562.2,675.1 569.2,674.2 574.7,673.0 C580.2,671.8 584.8,670.6 588.7,669.2 C592.6,667.8 594.1,666.5 598.0,664.5 C601.9,662.5 607.3,659.6 612.0,657.1 C616.7,654.6 621.0,652.0 626.0,649.6 C631.0,647.2 639.3,643.7 642.0,642.5 L643,665 C639.4,666.6 627.3,671.3 621.4,674.8 C615.5,678.3 612.1,683.0 607.4,686.0 C602.7,689.0 598.8,690.6 593.4,692.6 C588.0,694.6 580.9,696.5 574.7,698.2 C568.5,699.9 562.2,701.2 556.0,702.8 C549.8,704.3 543.5,705.2 537.3,707.5 C531.1,709.8 524.4,712.8 518.7,716.5 C513.0,720.2 507.8,725.4 503.0,730.0 C498.2,734.6 493.2,739.2 489.7,744.0 C486.2,748.8 484.3,754.1 482.2,758.9 C480.1,763.7 478.8,768.1 476.9,772.7 C474.9,777.3 473.2,782.1 470.5,786.6 C467.8,791.1 465.9,796.3 460.9,800.0 C455.9,803.7 448.4,805.6 440.5,809.0 C432.6,812.4 423.5,816.2 413.3,820.4 C403.1,824.6 390.6,829.1 379.3,834.0 C368.0,838.9 351.0,847.2 345.3,849.9 Z" fill="none" stroke="#1a0a0a" stroke-width="1.7"/>
<ellipse cx="325.5" cy="835.5" rx="22.5" ry="24" transform="rotate(-10 325.5 835.5)" fill="#e8281a" stroke="#111" stroke-width="2"/>
<path d="M313.0,822.0 C314.9,818.9 318.7,819.5 322.0,819.5 C325.3,819.5 330.5,819.8 333.0,822.0 C335.5,824.2 336.7,828.8 337.0,833.0 C337.3,837.2 336.8,843.5 335.0,847.0 C333.2,850.5 329.3,853.3 326.0,854.0 C322.7,854.7 317.6,853.7 315.0,851.0 C312.4,848.3 310.8,842.8 310.5,838.0 C310.2,833.2 311.1,825.1 313.0,822.0 Z" fill="#eaa0a6" stroke="#5a1010" stroke-width="1.2"/>
<line x1="313" y1="822" x2="307" y2="816" stroke="#5a1010" stroke-width="1.1"/>
<line x1="333" y1="822" x2="340" y2="815" stroke="#5a1010" stroke-width="1.1"/>
<line x1="337" y1="836" x2="347" y2="836" stroke="#5a1010" stroke-width="1.1"/>
<line x1="326" y1="854" x2="327" y2="860" stroke="#5a1010" stroke-width="1.1"/>
<line x1="311" y1="840" x2="303" y2="842" stroke="#5a1010" stroke-width="1.1"/>
<path d="M281,525 L276.5,567" stroke="#111" stroke-width="1.8" fill="none"/>
<path d="M549.3,516.3 L586.7,526.5" stroke="#111" stroke-width="1.6" fill="none"/>
<path d="M390.4,688.2 L426.3,697.7" stroke="#111" stroke-width="1.6" fill="none"/>
<path d="M408.8,810.2 L458.7,830.6" stroke="#111" stroke-width="1.6" fill="none"/>
</g>
<text x="230.5" y="582" font-family="Liberation Sans" font-size="13" fill="#1a1a1a" textLength="64" lengthAdjust="spacingAndGlyphs">Myonucleus</text>
<text x="590.5" y="525.8" font-family="Liberation Sans" font-size="13" fill="#1a1a1a" textLength="31.2" lengthAdjust="spacingAndGlyphs">Motor</text>
<text x="590.3" y="540.6" font-family="Liberation Sans" font-size="13" fill="#1a1a1a" textLength="37" lengthAdjust="spacingAndGlyphs">neuron</text>
<text x="235" y="695.5" font-family="Liberation Sans" font-size="13" fill="#1a1a1a" textLength="69" lengthAdjust="spacingAndGlyphs">Basal lamina</text>
<text x="397" y="711.5" font-family="Liberation Sans" font-size="13" fill="#1a1a1a" textLength="64.5" lengthAdjust="spacingAndGlyphs">Satellite cell</text>
<text x="179" y="821.8" font-family="Liberation Sans" font-size="13" fill="#1a1a1a" textLength="37.8" lengthAdjust="spacingAndGlyphs">Muscle</text>
<text x="179" y="835.6" font-family="Liberation Sans" font-size="13" fill="#1a1a1a" textLength="23" lengthAdjust="spacingAndGlyphs">fiber</text>
<text x="458" y="835.8" font-family="Liberation Sans" font-size="13" fill="#1a1a1a" textLength="68.5" lengthAdjust="spacingAndGlyphs">Blood vessel</text>
<rect x="44" y="508" width="595" height="416.5" fill="none" stroke="#111" stroke-width="2"/>
</g>
<g id="right">
<rect x="657" y="408.6" width="822" height="639.1" fill="#fdfdfd" stroke="#4f81bd" stroke-width="1.6"/>
<defs>
<radialGradient id="ng" cx="50%" cy="50%" r="50%"><stop offset="0" stop-color="#7a745e"/><stop offset="0.22" stop-color="#55564e"/><stop offset="0.5" stop-color="#1e2650"/><stop offset="1" stop-color="#0e1450"/></radialGradient>
<radialGradient id="bg" cx="50%" cy="50%" r="50%"><stop offset="0" stop-color="#2a5ac0"/><stop offset="0.7" stop-color="#1a40b0"/><stop offset="1" stop-color="#0a1a80"/></radialGradient>
<radialGradient id="gn" cx="50%" cy="50%" r="50%"><stop offset="0" stop-color="#6a6a80"/><stop offset="0.7" stop-color="#4a4868"/><stop offset="1" stop-color="#2a2a50"/></radialGradient>
<linearGradient id="yg" x1="0" x2="1" y1="0" y2="0"><stop offset="0" stop-color="#f8f21a"/><stop offset="0.38" stop-color="#f8e630"/><stop offset="0.55" stop-color="#f5cc70"/><stop offset="0.8" stop-color="#f0a878"/><stop offset="1" stop-color="#ec8272"/></linearGradient>
<linearGradient id="gg" x1="0" x2="1" y1="0" y2="0"><stop offset="0" stop-color="#f4f21c"/><stop offset="0.5" stop-color="#e0ec40"/><stop offset="0.75" stop-color="#98d840"/><stop offset="1" stop-color="#30c030"/></linearGradient>
<linearGradient id="gg2" x1="0" x2="1" y1="0" y2="0"><stop offset="0" stop-color="#d8ec50"/><stop offset="0.5" stop-color="#a8dc48"/><stop offset="1" stop-color="#38c030"/></linearGradient>
<path id="f1" d="M898.9,516.1 C897.6,515.5 893.6,514.3 891.3,512.8 C889.0,511.3 887.0,509.8 885.0,507.0 C883.0,504.2 881.0,499.8 879.0,496.0 C877.0,492.2 875.0,487.9 873.0,484.0 C871.0,480.1 868.2,474.4 867.3,472.5  C867.9,470.9 869.4,465.9 871.0,463.0 C872.6,460.1 874.8,457.2 877.0,455.0 C879.2,452.8 881.5,451.1 884.0,449.5 C886.5,447.9 889.2,446.6 892.0,445.7 C894.8,444.8 899.5,444.6 901.0,444.4 L1080,443.3 L1203,440 L1250,439.9 C1252.3,439.8 1259.0,439.8 1264.0,439.6 C1269.0,439.4 1275.3,438.5 1280.0,438.8 C1284.7,439.1 1288.7,439.7 1292.0,441.2 C1295.3,442.7 1297.9,444.8 1300.0,447.6 C1302.1,450.4 1303.9,454.3 1304.8,458.0 C1305.7,461.7 1305.7,466.4 1305.6,470.0 C1305.5,473.6 1304.9,476.3 1304.0,479.6 C1303.1,482.9 1301.6,486.9 1300.0,490.0 C1298.4,493.1 1296.7,495.6 1294.4,498.0 C1292.1,500.4 1288.8,502.8 1286.4,504.4 C1284.0,506.0 1283.7,506.9 1280.0,507.6 C1276.3,508.3 1269.0,508.5 1264.0,508.8 C1259.0,509.1 1252.3,509.2 1250.0,509.3 L1180,510.8 L1080,515 Z"/>
<path id="f2" d="M898.9,516.1 C897.6,515.5 893.6,514.3 891.3,512.8 C889.0,511.3 887.0,509.8 885.0,507.0 C883.0,504.2 881.0,499.8 879.0,496.0 C877.0,492.2 875.0,487.9 873.0,484.0 C871.0,480.1 868.2,474.4 867.3,472.5  C867.9,470.9 869.4,465.9 871.0,463.0 C872.6,460.1 874.8,457.2 877.0,455.0 C879.2,452.8 881.5,451.1 884.0,449.5 C886.5,447.9 889.2,446.6 892.0,445.7 C894.8,444.8 899.5,444.6 901.0,444.4 L986.7,444.8 L931.7,451.8 L991.7,454.3 L958.3,468.6 L1013.3,462 L1015,478.1 L1046.7,464 L1079,478.5 L1079.5,461.9 L1134.5,468.7 L1101.6,454.2 L1162.3,452.4 L1106,444.4 L1112,442.7 L1203,440 L1250,439.9 C1252.3,439.8 1259.0,439.8 1264.0,439.6 C1269.0,439.4 1275.3,438.5 1280.0,438.8 C1284.7,439.1 1288.7,439.7 1292.0,441.2 C1295.3,442.7 1297.9,444.8 1300.0,447.6 C1302.1,450.4 1303.9,454.3 1304.8,458.0 C1305.7,461.7 1305.7,466.4 1305.6,470.0 C1305.5,473.6 1304.9,476.3 1304.0,479.6 C1303.1,482.9 1301.6,486.9 1300.0,490.0 C1298.4,493.1 1296.7,495.6 1294.4,498.0 C1292.1,500.4 1288.8,502.8 1286.4,504.4 C1284.0,506.0 1283.7,506.9 1280.0,507.6 C1276.3,508.3 1269.0,508.5 1264.0,508.8 C1259.0,509.1 1252.3,509.2 1250.0,509.3 L1180,510.8 L1080,515 Z"/>
<path id="cell" d="M-27.6,2.3 C-26.4,1.4 -23.3,-1.4 -20.5,-3.2 C-17.7,-5.0 -14.2,-7.2 -10.8,-8.6 C-7.4,-10.0 -3.8,-11.8 0.0,-11.8 C3.8,-11.8 7.9,-10.1 11.8,-8.6 C15.7,-7.1 20.2,-4.4 23.2,-2.6 C26.1,-0.8 28.4,1.2 29.5,2.0 C28.1,2.6 23.8,4.8 20.9,5.9 C17.9,7.0 15.7,7.5 11.8,8.6 C7.9,9.6 1.8,12.0 -2.7,12.2 C-7.2,12.3 -11.8,10.6 -15.4,9.5 C-19.0,8.4 -22.4,6.6 -24.4,5.4 C-26.4,4.2 -27.1,2.8 -27.6,2.3 Z"/>
<g id="n1"><ellipse cx="915.8" cy="460" rx="13.2" ry="5.9"/><ellipse cx="1003.3" cy="453.8" rx="13.2" ry="5.9"/><ellipse cx="1089" cy="452.5" rx="13.2" ry="5.9"/><ellipse cx="1185" cy="451.3" rx="13.2" ry="5.9"/><ellipse cx="1274.7" cy="453" rx="13.2" ry="5.9"/><ellipse cx="940" cy="503.8" rx="13.2" ry="5.9"/><ellipse cx="1033.3" cy="500.5" rx="13.2" ry="5.9"/><ellipse cx="1123.7" cy="500.3" rx="13.2" ry="5.9"/><ellipse cx="1227.5" cy="498" rx="13.2" ry="5.9"/></g>
<g id="n2"><ellipse cx="915.8" cy="460" rx="13.2" ry="5.9"/><ellipse cx="1185" cy="451.3" rx="13.2" ry="5.9"/><ellipse cx="1274.7" cy="453" rx="13.2" ry="5.9"/><ellipse cx="940" cy="503.8" rx="13.2" ry="5.9"/><ellipse cx="1033.3" cy="500.5" rx="13.2" ry="5.9"/><ellipse cx="1123.7" cy="500.3" rx="13.2" ry="5.9"/><ellipse cx="1227.5" cy="498" rx="13.2" ry="5.9"/></g>
<marker id="ah" viewBox="0 0 10 10" refX="9" refY="5" markerWidth="4" markerHeight="4" markerUnits="strokeWidth" orient="auto"><path d="M0,0 L10,5 L0,10 Z" fill="#000"/></marker>
</defs>
<use href="#f1" fill="#e96f6b" stroke="#561414" stroke-width="1.4"/>
<use href="#n1" fill="url(#ng)" stroke="#3a2a80" stroke-width="0.6"/>
<g transform="translate(0,152.7)"><use href="#f2" fill="#e96f6b" stroke="#561414" stroke-width="1.4"/><use href="#n2" fill="url(#ng)" stroke="#3a2a80" stroke-width="0.6"/></g>
<g transform="translate(3.3,352.3)"><use href="#f2" fill="#e96f6b" stroke="#561414" stroke-width="1.4"/><use href="#n2" fill="url(#ng)" stroke="#3a2a80" stroke-width="0.6"/></g>
<g transform="translate(0,515.5)"><use href="#f2" fill="#e96f6b" stroke="#561414" stroke-width="1.4"/><use href="#n2" fill="url(#ng)" stroke="#3a2a80" stroke-width="0.6"/></g>
<path d="M1204.1,443.3 C1212,437 1220,431 1225,428.9 C1229,426 1233,424.6 1236.1,424.6 C1240,424.6 1243,426 1245,427.5 L1263.8,441.1 C1255,443 1245,442.6 1237.7,442.4 C1225,442 1212,443 1204.1,443.3 Z" fill="#3cc43c" stroke="#1a6a1a" stroke-width="1.2"/>
<ellipse cx="1235" cy="433.9" rx="9.3" ry="4.6" fill="#050505"/>
<path d="M1220.3,959 C1228,953 1236,947 1241,945 C1245,942.5 1249,941.7 1252.4,941.7 C1256,941.7 1259,943 1261,944.5 L1280.1,957.3 C1271,959 1261,958.6 1253.7,958.4 C1241,958 1228,959 1220.3,959 Z" fill="#3cc43c" stroke="#1a6a1a" stroke-width="1.2"/>
<ellipse cx="1251.5" cy="950.3" rx="9.3" ry="4.6" fill="#050505"/>
<g transform="translate(1233.5,587.5)"><use href="#cell" fill="url(#gg)" stroke="#1a1a0a" stroke-width="1.7"/><ellipse rx="6.5" ry="6.6" fill="url(#bg)" stroke="#0a1a70" stroke-width="0.6"/></g>
<g transform="translate(945.5,708.1)"><use href="#cell" fill="url(#yg)" stroke="#2a1a0a" stroke-width="1.7"/><ellipse rx="6.4" ry="6.6" fill="url(#bg)" stroke="#0a1a70" stroke-width="0.6"/></g>
<g transform="translate(1007.3,708.4)"><use href="#cell" fill="url(#yg)" stroke="#2a1a0a" stroke-width="1.7"/><ellipse rx="6.4" ry="6.6" fill="url(#bg)" stroke="#0a1a70" stroke-width="0.6"/></g>
<g transform="translate(1069.4,724.5)"><use href="#cell" fill="url(#yg)" stroke="#2a1a0a" stroke-width="1.7"/><ellipse rx="6.4" ry="6.6" fill="url(#bg)" stroke="#0a1a70" stroke-width="0.6"/></g>
<g transform="translate(945.5,746.5)"><use href="#cell" fill="url(#yg)" stroke="#2a1a0a" stroke-width="1.7"/><ellipse rx="6.4" ry="6.6" fill="url(#bg)" stroke="#0a1a70" stroke-width="0.6"/></g>
<g transform="translate(1007.3,743.1)"><use href="#cell" fill="url(#yg)" stroke="#2a1a0a" stroke-width="1.7"/><ellipse rx="6.4" ry="6.6" fill="url(#bg)" stroke="#0a1a70" stroke-width="0.6"/></g>
<g transform="translate(1069.4,755.2)"><use href="#cell" fill="url(#yg)" stroke="#2a1a0a" stroke-width="1.7"/><ellipse rx="6.4" ry="6.6" fill="url(#bg)" stroke="#0a1a70" stroke-width="0.6"/></g>
<g transform="translate(961.4,776.9)"><use href="#cell" fill="url(#yg)" stroke="#2a1a0a" stroke-width="1.7"/><ellipse rx="6.4" ry="6.6" fill="url(#bg)" stroke="#0a1a70" stroke-width="0.6"/></g>
<g transform="translate(1020.9,772.2)"><use href="#cell" fill="url(#yg)" stroke="#2a1a0a" stroke-width="1.7"/><ellipse rx="6.4" ry="6.6" fill="url(#bg)" stroke="#0a1a70" stroke-width="0.6"/></g>
<g transform="translate(1127.2,737)"><use href="#cell" fill="url(#yg)" stroke="#2a1a0a" stroke-width="1.7"/><ellipse rx="6.4" ry="6.6" fill="url(#bg)" stroke="#0a1a70" stroke-width="0.6"/></g>
<g transform="translate(1210.5,741.1)"><use href="#cell" fill="url(#yg)" stroke="#2a1a0a" stroke-width="1.7"/><ellipse rx="6.4" ry="6.6" fill="url(#bg)" stroke="#0a1a70" stroke-width="0.6"/></g>
<g transform="translate(1238.4,770.4)"><use href="#cell" fill="url(#gg2)" stroke="#1a2a0a" stroke-width="1.7"/><ellipse rx="6.3" ry="6.6" fill="url(#gn)" stroke="#2a2a40" stroke-width="0.6"/></g>
<path d="M932.0,950.0 C933.3,948.9 937.0,945.8 940.0,943.5 C943.0,941.2 947.2,938.1 950.0,936.5 C952.8,934.9 954.7,934.2 957.0,934.0 C959.3,933.8 961.0,933.8 964.0,935.0 C967.0,936.2 970.9,938.8 975.0,941.0 C979.1,943.2 986.2,947.1 988.5,948.3  C986.8,949.2 981.4,952.0 978.0,953.5 C974.6,955.0 971.2,956.7 968.0,957.5 C964.8,958.3 962.3,958.7 959.0,958.5 C955.7,958.3 951.5,957.4 948.0,956.5 C944.5,955.6 940.7,954.1 938.0,953.0 C935.3,951.9 933.0,950.5 932.0,950.0 Z" fill="#e8281c" stroke="#2a0a0a" stroke-width="1.5"/>
<ellipse cx="960" cy="946.7" rx="6.5" ry="7" fill="#2050b8" stroke="#1a3a90" stroke-width="0.6"/>
<path d="M960.5,968.0 C961.8,967.0 965.1,964.1 968.0,962.0 C970.9,959.9 975.0,956.9 978.0,955.5 C981.0,954.1 983.5,953.7 986.0,953.5 C988.5,953.3 990.0,953.4 993.0,954.5 C996.0,955.6 1000.0,957.8 1004.0,960.0 C1008.0,962.2 1014.8,966.2 1017.0,967.5  C1015.3,968.2 1010.3,970.7 1007.0,972.0 C1003.7,973.3 1000.2,974.8 997.0,975.5 C993.8,976.2 991.3,976.7 988.0,976.5 C984.7,976.3 980.5,975.4 977.0,974.5 C973.5,973.6 969.8,972.1 967.0,971.0 C964.2,969.9 961.6,968.5 960.5,968.0 Z" fill="#e8281c" stroke="#2a0a0a" stroke-width="1.5"/>
<ellipse cx="988.3" cy="965" rx="6.5" ry="7" fill="#2050b8" stroke="#1a3a90" stroke-width="0.6"/>
<path d="M989.2,988.3 C992,982 1000,977 1008.3,975 L1033.3,969.2 L1058.3,965.8 L1091.7,960 C1105,956 1120,949 1140,943.3 C1143,942.5 1144,945 1142.5,946 C1138,950 1136,952 1133.3,953.3 C1128,960 1122,965 1116.7,968.3 L1091.7,978.3 L1075,985 L1041.7,990.8 L1008.3,991.7 C1000,991.5 994,991 989.2,988.3 Z" fill="#e8281c" stroke="#2a0a0a" stroke-width="1.5"/>
<ellipse cx="1025" cy="982.5" rx="12.5" ry="5.8" transform="rotate(-8 1025 982.5)" fill="#2258b8"/>
<ellipse cx="1065.8" cy="974.2" rx="12.5" ry="5.8" transform="rotate(-10 1065.8 974.2)" fill="#2258b8"/>
<ellipse cx="1097.5" cy="964.7" rx="12.5" ry="5.8" transform="rotate(-14 1097.5 964.7)" fill="#2258b8"/>
<path d="M1151.5,522.2 L1161.3,522.2 L1161.3,550.5 L1168.8,550.5 L1156.4,570.2 L1144.3,550.5 L1151.5,550.5 Z" fill="#000"/>
<path d="M1151.5,676.5 L1161.3,676.5 L1161.3,705 L1168.8,705 L1156.4,724.7 L1144.3,705 L1151.5,705 Z" fill="#000"/>
<path d="M1151.5,879.3 L1161.3,879.3 L1161.3,907.3 L1168.8,907.3 L1156.4,927.5 L1144.3,907.3 L1151.5,907.3 Z" fill="#000"/>
<path d="M968,539 L983,554 L981.7,558 L996,568.6 L995.4,573.6 L1016.3,596 L991.1,584.1 L990.4,579.8 L974.9,570.4 L976.1,564.8 L959,554.3 Z" fill="#1cc4e6" stroke="#000" stroke-width="1.6" stroke-linejoin="miter"/>
<path d="M926.2,696.4 C924.9,696.0 921.3,694.3 918.4,693.8 C915.5,693.4 912.3,693.3 908.8,693.7 C905.3,694.1 901.0,694.8 897.3,696.1 C893.6,697.5 889.8,699.4 886.7,701.9 C883.5,704.3 880.5,707.4 878.4,710.8 C876.4,714.3 875.0,718.5 874.4,722.7 C873.8,726.8 873.9,731.6 874.8,735.6 C875.7,739.6 877.4,743.6 879.7,746.7 C881.9,749.9 885.0,752.2 888.4,754.5 C891.7,756.8 897.7,759.3 899.6,760.3 L902.4,754.7 C900.6,753.9 894.7,751.4 891.6,749.5 C888.6,747.6 886.2,745.8 884.3,743.3 C882.4,740.8 881.0,737.7 880.2,734.4 C879.4,731.1 879.2,726.9 879.6,723.3 C880.0,719.8 881.0,716.2 882.6,713.2 C884.2,710.1 886.6,707.4 889.3,705.1 C892.0,702.9 895.4,701.1 898.7,699.9 C902.0,698.7 906.0,698.2 909.2,697.9 C912.4,697.6 915.0,697.7 917.6,698.2 C920.2,698.6 923.6,700.2 924.8,700.6 Z" fill="#e8220e"/>
<path d="M901,748.8 L924.2,761.6 L899.4,772 Z" fill="#e8220e"/>
<line x1="862.2" y1="464.2" x2="890.6" y2="462.3" stroke="#000" stroke-width="3" stroke-linecap="round"/><path d="M900.6,461.7 L889.9,467.4 L889.3,457.4 Z" fill="#000"/>
<line x1="862.2" y1="479.8" x2="917.3" y2="498.6" stroke="#000" stroke-width="3" stroke-linecap="round"/><path d="M926.8,501.8 L914.8,503.0 L918.0,493.5 Z" fill="#000"/>
<line x1="1327" y1="432" x2="1267.9" y2="432.1" stroke="#000" stroke-width="3" stroke-linecap="round"/><path d="M1257.9,432.1 L1268.9,427.1 L1268.9,437.1 Z" fill="#000"/>
<line x1="1320" y1="581.5" x2="1272.8" y2="581.5" stroke="#000" stroke-width="3" stroke-linecap="round"/><path d="M1262.8,581.5 L1273.8,576.5 L1273.8,586.5 Z" fill="#000"/>
<line x1="1352.4" y1="818.7" x2="1281.2" y2="779.9" stroke="#000" stroke-width="3" stroke-linecap="round"/><path d="M1272.4,775.1 L1284.5,776.0 L1279.7,784.8 Z" fill="#000"/>
<line x1="1352.4" y1="874.7" x2="1277.5" y2="936.7" stroke="#000" stroke-width="3" stroke-linecap="round"/><path d="M1269.8,943.1 L1275.1,932.2 L1281.5,939.9 Z" fill="#000"/>
<text x="755" y="472" font-family="Liberation Sans" font-weight="bold" font-size="19.5" fill="#000" stroke="#000" stroke-width="0.3" textLength="98.0" lengthAdjust="spacingAndGlyphs" >myonuclei</text>
<text x="1334" y="439.5" font-family="Liberation Sans" font-weight="bold" font-size="19.5" fill="#000" stroke="#000" stroke-width="0.3" textLength="94.0" lengthAdjust="spacingAndGlyphs" >quiescent</text>
<text x="1334" y="462.5" font-family="Liberation Sans" font-weight="bold" font-size="19.5" fill="#000" stroke="#000" stroke-width="0.3" textLength="112.5" lengthAdjust="spacingAndGlyphs" >satellite cell</text>
<text x="1334" y="584.5" font-family="Liberation Sans" font-weight="bold" font-size="19.5" fill="#000" stroke="#000" stroke-width="0.3" textLength="86.5" lengthAdjust="spacingAndGlyphs" >activated</text>
<text x="1334" y="609" font-family="Liberation Sans" font-weight="bold" font-size="19.5" fill="#000" stroke="#000" stroke-width="0.3" textLength="112.5" lengthAdjust="spacingAndGlyphs" >satellite cell</text>
<text x="771" y="737.1" font-family="Liberation Sans" font-weight="bold" font-size="19.5" fill="#000" stroke="#000" stroke-width="0.3" textLength="88.0" lengthAdjust="spacingAndGlyphs" >myoblast</text>
<text x="743" y="760.9" font-family="Liberation Sans" font-weight="bold" font-size="19.5" fill="#000" stroke="#000" stroke-width="0.3" textLength="115.3" lengthAdjust="spacingAndGlyphs" >proliferation</text>
<text x="1356" y="839.7" font-family="Liberation Sans" font-weight="bold" font-size="19.5" fill="#000" stroke="#000" stroke-width="0.3" textLength="113.0" lengthAdjust="spacingAndGlyphs" >satellite cell</text>
<text x="1356" y="863.6" font-family="Liberation Sans" font-weight="bold" font-size="19.5" fill="#000" stroke="#000" stroke-width="0.3" textLength="115.0" lengthAdjust="spacingAndGlyphs" >self-renewal</text>
<text x="682" y="923.3" font-family="Liberation Sans" font-weight="bold" font-size="19.5" fill="#000" stroke="#000" stroke-width="0.3" textLength="225.0" lengthAdjust="spacingAndGlyphs" >myoblast differentiation</text>
<text x="829" y="946.7" font-family="Liberation Sans" font-weight="bold" font-size="19.5" fill="#000" stroke="#000" stroke-width="0.3" textLength="79.0" lengthAdjust="spacingAndGlyphs" >&amp; fusion</text>
<text x="909" y="567.5" font-family="Liberation Sans" font-size="19" fill="#000" stroke="#000" stroke-width="0.45" textLength="45" lengthAdjust="spacingAndGlyphs">injury</text>
</g>
</svg>
</body></html>
